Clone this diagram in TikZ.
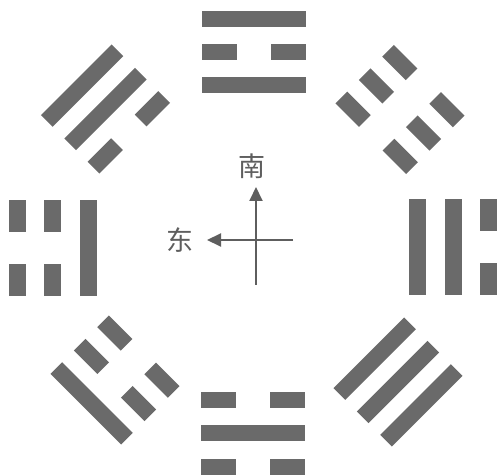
\documentclass[tikz,border=0pt]{standalone}
\usepackage{fontspec}
\newfontfamily\cjk{Noto Sans CJK SC}
\usetikzlibrary{arrows.meta}
\definecolor{bar}{HTML}{6A6A6A}
\definecolor{ink}{HTML}{5E5E5E}
\newcommand\yao[2]{%
  \ifnum#2=1
    \fill[bar] ({-\yL/2},{#1-\yT/2}) rectangle ({\yL/2},{#1+\yT/2});
  \else
    \fill[bar] ({-\yL/2},{#1-\yT/2}) rectangle ({-\yL/6},{#1+\yT/2});
    \fill[bar] ({\yL/6},{#1-\yT/2}) rectangle ({\yL/2},{#1+\yT/2});
  \fi}
\newcommand\gua[9]{% x y rot length spacing thickness outer middle inner
  \begin{scope}[shift={(#1,#2)},rotate=#3]
    \def\yL{#4}\def\yS{#5}\def\yT{#6}%
    \yao{\yS}{#7}\yao{0}{#8}\yao{-\yS}{#9}
  \end{scope}}
\begin{document}
\begin{tikzpicture}[x=1pt,y=1pt,
  axis/.style={draw=ink,line width=2pt,-{Triangle[length=14pt,width=13pt]}},
  lab/.style={text=ink,font=\cjk\fontsize{27}{29}\selectfont,inner sep=0pt}]
  \fill[white] (0,0) rectangle (498,474);
  \useasboundingbox (0,0) rectangle (498,474);
  % south (top): Li
  \gua{254}{422}{0}{104}{33}{16}{1}{0}{1}
  % north (bottom): Kan
  \gua{253}{40.5}{180}{104}{33}{16}{0}{1}{0}
  % east (left): Zhen
  \gua{52.5}{226}{90}{96}{35.5}{17}{0}{0}{1}
  % west (right): Dui
  \gua{453}{227}{-90}{96}{35.5}{17}{0}{1}{1}
  % southeast (top-left): Xun
  \gua{105.5}{365}{45}{100}{33}{16.5}{1}{1}{0}
  % southwest (top-right): Kun
  \gua{400}{364.5}{-45}{100}{33}{16.5}{0}{0}{0}
  % northeast (bottom-left): Gen
  \gua{115}{94}{135}{100}{33}{16.5}{1}{0}{0}
  % northwest (bottom-right): Qian
  \gua{398}{92}{-135}{100}{33}{16.5}{1}{1}{1}
  % compass
  \coordinate (vb) at (256,189);
  \coordinate (vt) at (256,287);
  \coordinate (hr) at (293,234);
  \coordinate (hl) at (207,234);
  \draw[axis] (vb) -- (vt);
  \draw[axis] (hr) -- (hl);
  \node[lab] (nan) at (252,308) {南};
  \node[lab] (dong) at (180,234) {东};
\end{tikzpicture}
\end{document}
